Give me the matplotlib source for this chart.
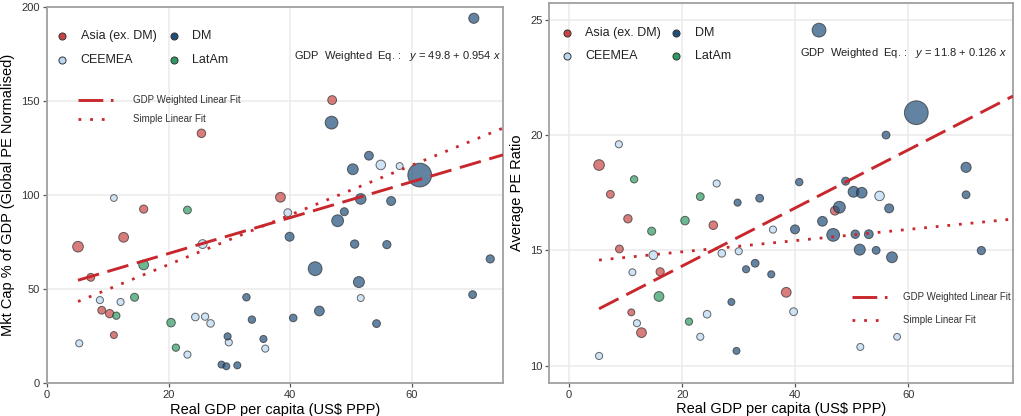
import numpy as np
import matplotlib
matplotlib.use("Agg")
import matplotlib.pyplot as plt

# ===============================
# Data
# ===============================
regions = ["Asia (ex. DM)", "CEEMEA", "DM", "LatAm"]
region_colors = {"Asia (ex. DM)": "#C84444", "CEEMEA": "#BBD8F3",
                 "DM": "#1F4E79", "LatAm": "#2E9A63"}

# left panel: market cap % of GDP vs real GDP per capita (US$ 000s PPP)
mc_gdppc = {
    "Asia (ex. DM)": [46.9, 25.4, 38.4, 15.9, 12.6, 5.1, 7.2, 9.0, 10.3, 11.0],
    "CEEMEA": [54.9, 58.0, 11.0, 39.6, 25.6, 51.6, 8.7, 12.1, 24.4, 26.0, 26.9, 5.3, 29.9, 35.9, 23.1],
    "DM": [70.2, 46.8, 52.95, 50.3, 61.3, 51.6, 56.6, 48.9, 47.8, 39.9, 50.6, 55.9, 72.9, 44.1,
           51.3, 70.0, 32.8, 44.8, 33.7, 40.5, 54.2, 29.7, 35.6, 28.7, 29.5, 31.3],
    "LatAm": [23.1, 15.9, 14.4, 11.4, 20.4, 21.2],
}
mc_pct = {
    "Asia (ex. DM)": [150.5, 132.8, 98.8, 92.5, 77.5, 72.5, 56.2, 38.7, 36.9, 25.5],
    "CEEMEA": [116.0, 115.4, 98.4, 90.6, 73.9, 45.2, 44.1, 43.1, 35.1, 35.3, 31.7, 21.1, 21.6, 18.3, 15.1],
    "DM": [194.0, 138.5, 120.9, 113.7, 110.6, 97.9, 96.8, 91.1, 86.3, 77.8, 73.9, 73.6, 66.0, 60.8,
           53.7, 47.0, 45.6, 38.3, 33.7, 34.6, 31.6, 24.8, 23.4, 9.8, 8.9, 9.4],
    "LatAm": [92.0, 62.8, 45.6, 35.8, 32.1, 18.8],
}
mc_gdp = {
    "Asia (ex. DM)": [0.5, 0.4, 0.9, 0.3, 0.9, 1.4, 0.2, 0.2, 0.35, 0.05],
    "CEEMEA": [0.8, 0.05, 0.03, 0.2, 0.5, 0.05, 0.07, 0.07, 0.15, 0.1, 0.15, 0.07, 0.07, 0.07, 0.07],
    "DM": [1.1, 3.0, 0.5, 1.5, 21.0, 1.4, 0.55, 0.25, 2.2, 0.55, 0.35, 0.3, 0.3, 4.0,
           1.6, 0.2, 0.12, 0.9, 0.12, 0.15, 0.2, 0.07, 0.07, 0.05, 0.05, 0.07],
    "LatAm": [0.2, 0.9, 0.25, 0.1, 0.4, 0.1],
}

# right panel: average PE ratio vs real GDP per capita
pe_gdppc = {
    "Asia (ex. DM)": [5.3, 7.3, 47.0, 10.4, 25.5, 8.9, 16.1, 38.4, 11.0, 12.8],
    "CEEMEA": [8.8, 26.1, 54.9, 36.05, 14.9, 27.0, 30.0, 11.2, 24.4, 39.7, 12.0, 23.2, 58.0, 51.5, 5.3],
    "DM": [44.2, 61.4, 56.05, 70.2, 40.7, 48.9, 50.3, 51.75, 70.2, 29.8, 33.7, 47.8, 56.6, 44.8,
           39.95, 46.7, 50.6, 53.0, 51.4, 54.3, 57.1, 72.9, 31.3, 32.9, 35.75, 28.7, 29.6],
    "LatAm": [11.5, 23.2, 20.5, 14.6, 15.9, 21.2],
}
pe_ratio = {
    "Asia (ex. DM)": [18.7, 17.43, 16.72, 16.37, 16.09, 15.06, 14.07, 13.18, 12.31, 11.43],
    "CEEMEA": [19.6, 17.9, 17.36, 15.9, 14.79, 14.87, 14.96, 14.05, 12.23, 12.34, 11.84, 11.25,
               11.25, 10.81, 10.42],
    "DM": [24.55, 20.97, 20.0, 18.6, 17.96, 18.0, 17.54, 17.5, 17.41, 17.07, 17.26, 16.87, 16.82,
           16.26, 15.91, 15.67, 15.7, 15.7, 15.03, 15.0, 14.7, 14.99, 14.18, 14.44, 13.96, 12.76, 10.64],
    "LatAm": [18.08, 17.33, 16.29, 15.83, 13.0, 11.91],
}
pe_gdp = {
    "Asia (ex. DM)": [1.4, 0.2, 0.5, 0.35, 0.4, 0.2, 0.3, 0.9, 0.05, 0.9],
    "CEEMEA": [0.07, 0.07, 0.8, 0.07, 0.5, 0.15, 0.07, 0.05, 0.15, 0.2, 0.07, 0.07, 0.03, 0.05, 0.07],
    "DM": [4.0, 21.0, 0.2, 1.1, 0.12, 0.25, 1.5, 1.4, 0.2, 0.07, 0.2, 2.2, 0.55, 0.9,
           0.55, 3.0, 0.35, 0.5, 1.6, 0.2, 1.5, 0.3, 0.07, 0.2, 0.07, 0.05, 0.05],
    "LatAm": [0.1, 0.2, 0.4, 0.25, 0.9, 0.1],
}

# fitted lines (intercept, slope)
mc_fit_weighted = (49.8, 0.954)
mc_fit_simple = (36.6, 1.32)
pe_fit_weighted = (11.8, 0.126)
pe_fit_simple = (14.45, 0.0243)

# ===============================
# Style
# ===============================
plt.rcParams["font.family"] = ["Liberation Sans", "DejaVu Sans"]
plt.rcParams["mathtext.fontset"] = "custom"
plt.rcParams["mathtext.it"] = "Liberation Sans:italic"
plt.rcParams["mathtext.rm"] = "Liberation Sans"

LINE_RED = "#C8282D"
GRID = "#EBEBEB"
SPINE = "#A0A0A0"


def marker_area(gdp):
    # bubble diameter in pixels grows with sqrt of GDP, converted to points^2
    d_px = 6.1 + 3.85 * np.sqrt(np.asarray(gdp))
    return (d_px * 0.72) ** 2


def style_axes(ax):
    ax.set_axisbelow(True)
    ax.grid(True, color=GRID, linewidth=1.1)
    for sp in ax.spines.values():
        sp.set_color(SPINE)
        sp.set_linewidth(1.3)
    ax.tick_params(axis="both", colors="#555555", labelcolor="#333333",
                   labelsize=8, length=3, width=0.9, pad=2)


def draw_points(ax, xs, ys, sizes):
    for reg in regions:
        ax.scatter(xs[reg], ys[reg], s=marker_area(sizes[reg]),
                   color=region_colors[reg], alpha=0.7,
                   edgecolors="#2a2a2a", linewidths=0.7, zorder=3)


def draw_fits(ax, x0, x1, weighted, simple):
    xx = np.linspace(x0, x1, 50)
    ax.plot(xx, weighted[0] + weighted[1] * xx, color=LINE_RED, lw=2.1,
            linestyle=(0, (7.5, 3)), zorder=4)
    ax.plot(xx, simple[0] + simple[1] * xx, color=LINE_RED, lw=2.0,
            linestyle=(0, (1, 3.2)), zorder=4)


def region_legend(ax, x_marker, x_text, x_marker2, x_text2, y1, y2):
    spots = [(x_marker, x_text, y1), (x_marker, x_text, y2),
             (x_marker2, x_text2, y1), (x_marker2, x_text2, y2)]
    for reg, (xm, xt, yy) in zip(["Asia (ex. DM)", "CEEMEA", "DM", "LatAm"], spots):
        ax.scatter([xm], [yy], s=26, color=region_colors[reg], edgecolors="#333333",
                   linewidths=0.7, transform=ax.transAxes, zorder=5, clip_on=False)
        ax.text(xt, yy, reg, transform=ax.transAxes, fontsize=9, va="center",
                ha="left", color="#222222")


def line_legend(ax, xa, xb, xt, y1, y2):
    ax.plot([xa, xb], [y1, y1], transform=ax.transAxes, color=LINE_RED, lw=2.1,
            linestyle=(0, (8.5, 2.6)), zorder=5)
    ax.plot([xa, xb], [y2, y2], transform=ax.transAxes, color=LINE_RED, lw=2.0,
            linestyle=(0, (1, 3.2)), zorder=5)
    ax.text(xt, y1, "GDP Weighted Linear Fit", transform=ax.transAxes, fontsize=7,
            va="center", ha="left", color="#333333")
    ax.text(xt, y2, "Simple Linear Fit", transform=ax.transAxes, fontsize=7,
            va="center", ha="left", color="#333333")


fig = plt.figure(figsize=(10.21, 4.16), dpi=100)
ax1 = fig.add_axes([47 / 1021, 33 / 416, 456 / 1021, 376 / 416])
ax2 = fig.add_axes([549.3 / 1021, 33.3 / 416, 463.7 / 1021, 380 / 416])

# ===============================
# Left panel: Mkt cap % of GDP
# ===============================
style_axes(ax1)
draw_points(ax1, mc_gdppc, mc_pct, mc_gdp)
ax1.set_xlim(0, 75)
ax1.set_ylim(0, 200)
mc_xmin = min(min(v) for v in mc_gdppc.values())
draw_fits(ax1, mc_xmin, 75, mc_fit_weighted, mc_fit_simple)
ax1.set_xticks([0, 20, 40, 60])
ax1.set_yticks([0, 50, 100, 150, 200])
ax1.set_xlabel("Real GDP per capita (US$ PPP)", fontsize=10.5, labelpad=2)
ax1.set_ylabel("Mkt Cap % of GDP (Global PE Normalised)", fontsize=10.5, labelpad=5)
region_legend(ax1, 0.033, 0.074, 0.279, 0.318, 0.923, 0.859)
line_legend(ax1, 0.068, 0.145, 0.188, 0.7527, 0.702)
ax1.text(0.995, 0.8697,
         "GDP  Weighted  Eq. :   $y$ = %.1f + %.3f $x$" % mc_fit_weighted,
         transform=ax1.transAxes, fontsize=8, ha="right", va="center", color="#222222")

# ===============================
# Right panel: Average PE ratio
# ===============================
style_axes(ax2)
draw_points(ax2, pe_gdppc, pe_ratio, pe_gdp)
ax2.set_xlim(-3.5, 78.5)
ax2.set_ylim(9.26, 25.74)
pe_xmin = min(min(v) for v in pe_gdppc.values())
draw_fits(ax2, pe_xmin, 78.5, pe_fit_weighted, pe_fit_simple)
ax2.set_xticks([0, 20, 40, 60])
ax2.set_yticks([10, 15, 20, 25])
ax2.set_xlabel("Real GDP per capita (US$ PPP)", fontsize=10.5, labelpad=2)
ax2.set_ylabel("Average PE Ratio", fontsize=10.5, labelpad=4)
region_legend(ax2, 0.038, 0.077, 0.273, 0.314, 0.9203, 0.86)
line_legend(ax2, 0.653, 0.728, 0.763, 0.2255, 0.165)
ax2.text(0.9875, 0.8676,
         "GDP  Weighted  Eq. :   $y$ = %.1f + %.3f $x$" % pe_fit_weighted,
         transform=ax2.transAxes, fontsize=8, ha="right", va="center", color="#222222")

fig.savefig("out.png", dpi=100)
